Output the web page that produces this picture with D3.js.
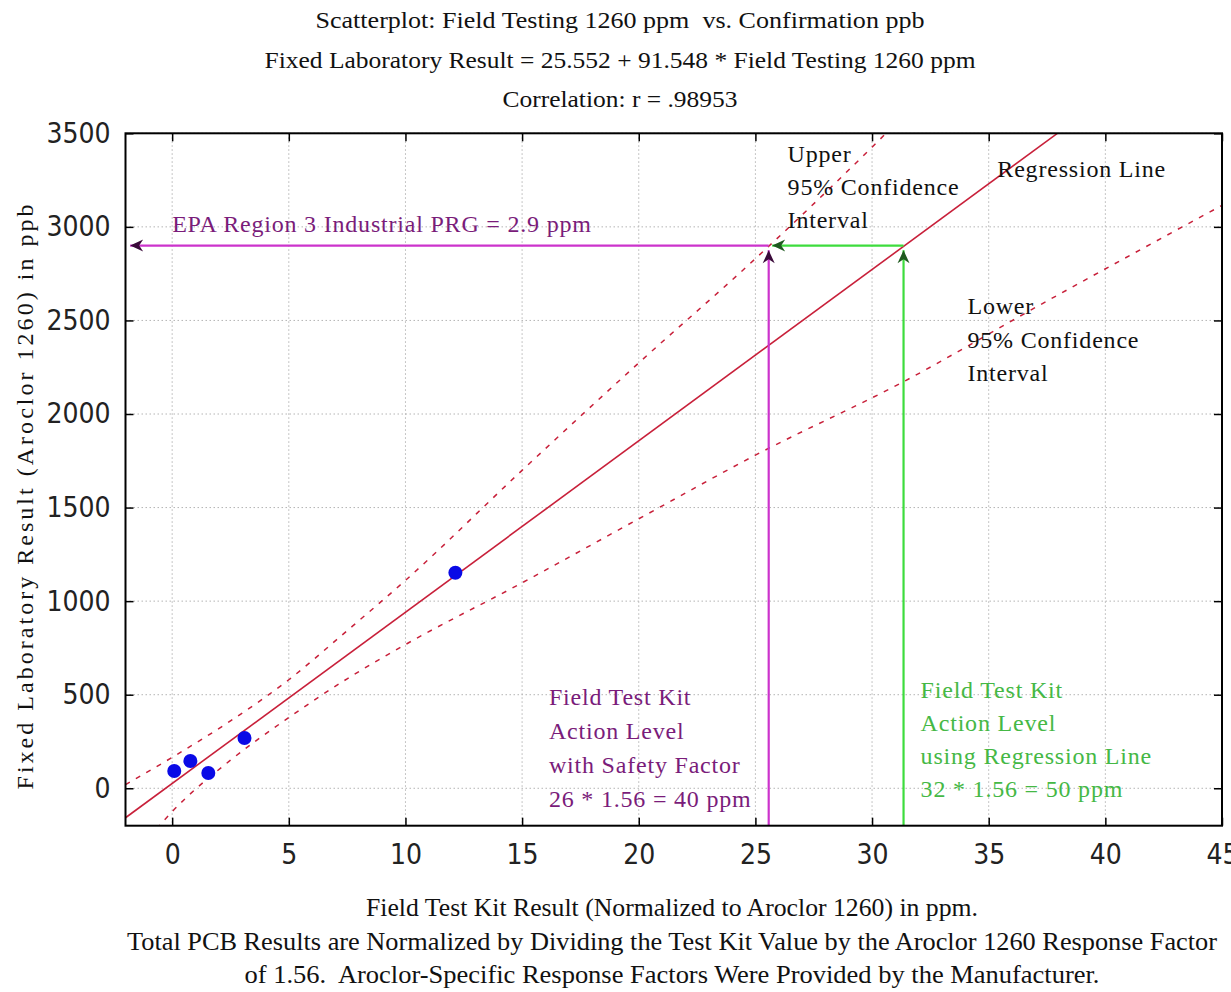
<!DOCTYPE html>
<html>
<head>
<meta charset="utf-8">
<script src="https://cdn.jsdelivr.net/npm/d3@7"></script>
<style>
  body { margin: 0; background: #fff; }
  .tick text { font-family: "DejaVu Sans Condensed", "Liberation Sans Narrow", sans-serif; font-stretch: condensed; font-size: 28px; fill: #222; }
  .tick line { stroke: #000; stroke-width: 1.5; }
  .grid line { stroke: #b4b4b4; stroke-width: 1; stroke-dasharray: 1.5,2.5; }
  .title, .xtitle { font-family: "Liberation Serif", "Times New Roman", serif; fill: #111; white-space: pre; }
  .note { font-family: "Liberation Serif", "Times New Roman", serif; font-size: 24px; letter-spacing: 0.8px; }
</style>
</head>
<body>
<div id="chart"></div>
<script>
// ---- data ----
var xTicks = [0, 5, 10, 15, 20, 25, 30, 35, 40, 45];
var yTicks = [0, 500, 1000, 1500, 2000, 2500, 3000, 3500];

// field test ppm vs lab ppb
var pointsX = [0.09, 0.78, 1.55, 3.1, 12.14];
var pointsY = [92, 146, 82, 269, 1152];

// regression line end points: 25.552 + 91.548 * x
var regX = [-2, 38];
var regY = [-157.5, 3504.5];

// 95% confidence interval curves
var upperX = [-2, 0, 2.5, 5, 7.5, 10, 15, 20, 25, 30, 30.6];
var upperY = [20, 165, 360, 580, 842, 1111, 1699, 2273, 2830, 3426, 3500];
var lowerX = [-1, 0, 2.5, 5, 7.5, 10, 15, 20, 25, 31.4, 37.2, 45];
var lowerY = [-265, -125, 150, 378, 585, 768, 1098, 1440, 1780, 2176, 2583, 3115];

var prgLevel = 2900;          // EPA Region 3 industrial PRG, ppb
var actionSafety = 25.57;     // where upper CI hits PRG
var actionRegression = 31.35; // where regression hits PRG

var titleLines = [
  "Scatterplot: Field Testing 1260 ppm  vs. Confirmation ppb",
  "Fixed Laboratory Result = 25.552 + 91.548 * Field Testing 1260 ppm",
  "Correlation: r = .98953"
];
var xTitleLines = [
  "Field Test Kit Result (Normalized to Aroclor 1260) in ppm.",
  "Total PCB Results are Normalized by Dividing the Test Kit Value by the Aroclor 1260 Response Factor",
  "of 1.56.  Aroclor-Specific Response Factors Were Provided by the Manufacturer."
];
var yTitle = "Fixed Laboratory Result (Aroclor 1260) in ppb";
var upperNote = ["Upper", "95% Confidence", "Interval"];
var lowerNote = ["Lower", "95% Confidence", "Interval"];
var regNote = "Regression Line";
var prgNote = "EPA Region 3 Industrial PRG = 2.9 ppm";
var safetyNote = ["Field Test Kit", "Action Level", "with Safety Factor", "26 * 1.56 = 40 ppm"];
var regActionNote = ["Field Test Kit", "Action Level", "using Regression Line", "32 * 1.56 = 50 ppm"];

// ---- layout ----
var width = 1231, height = 992;
var margin = {top: 133.3, right: 9, bottom: 166.3, left: 125.5};
var cw = width - margin.left - margin.right,
    ch = height - margin.top - margin.bottom;

var red = "#c8203a", magenta = "#cc33cc", green = "#3ddc3d",
    purpleText = "#7a1c7a", greenText = "#45b845";

var svg = d3.select("#chart").append("svg")
  .attr("width", width)
  .attr("height", height);

var x = d3.scaleLinear().domain([-2, 45]).range([0, cw]);
var y = d3.scaleLinear().domain([-200, 3500]).range([ch, 0]);

var defs = svg.append("defs");
defs.append("clipPath").attr("id", "plotclip")
  .append("rect").attr("width", cw).attr("height", ch);

function marker(id, color) {
  defs.append("marker")
    .attr("id", id)
    .attr("viewBox", "-14 -7 16 14")
    .attr("refX", 0).attr("refY", 0)
    .attr("markerWidth", 16).attr("markerHeight", 14)
    .attr("markerUnits", "userSpaceOnUse")
    .attr("orient", "auto")
    .append("path")
    .attr("d", "M0,0 L-13,-6 L-9,0 L-13,6 Z")
    .attr("fill", color);
}
marker("arrMag", "#3a0a3a");
marker("arrGreen", "#1f5a1f");

var g = svg.append("g")
  .attr("transform", "translate(" + margin.left + "," + margin.top + ")");

// grid
g.append("g").attr("class", "grid")
  .selectAll("line").data(xTicks).enter().append("line")
  .attr("x1", function(d) { return x(d); }).attr("x2", function(d) { return x(d); })
  .attr("y1", 0).attr("y2", ch);
g.append("g").attr("class", "grid")
  .selectAll("line").data(yTicks).enter().append("line")
  .attr("y1", function(d) { return y(d); }).attr("y2", function(d) { return y(d); })
  .attr("x1", 0).attr("x2", cw);

// axes, ticks pointing inwards
var fmt = d3.format("d");
g.append("g").attr("class", "x axis")
  .attr("transform", "translate(0," + ch + ")")
  .call(d3.axisBottom(x).tickValues(xTicks).tickFormat(fmt).tickSizeInner(-8).tickSizeOuter(0).tickPadding(18));
g.append("g").attr("class", "x axis top")
  .call(d3.axisTop(x).tickValues(xTicks).tickSizeInner(-8).tickSizeOuter(0).tickFormat(""));
g.append("g").attr("class", "y axis")
  .call(d3.axisLeft(y).tickValues(yTicks).tickFormat(fmt).tickSizeInner(-8).tickSizeOuter(0).tickPadding(15));
g.append("g").attr("class", "y axis right")
  .attr("transform", "translate(" + cw + ",0)")
  .call(d3.axisRight(y).tickValues(yTicks).tickSizeInner(-8).tickSizeOuter(0).tickFormat(""));
g.selectAll(".axis .domain").remove();

// lines
var line = d3.line().x(function(d) { return x(d[0]); }).y(function(d) { return y(d[1]); });
var plot = g.append("g").attr("clip-path", "url(#plotclip)");

plot.append("path")
  .datum(d3.zip(upperX, upperY))
  .attr("d", line.curve(d3.curveMonotoneX))
  .attr("fill", "none").attr("stroke", red).attr("stroke-width", 1.5)
  .attr("stroke-dasharray", "5,7");
plot.append("path")
  .datum(d3.zip(lowerX, lowerY))
  .attr("d", line.curve(d3.curveMonotoneX))
  .attr("fill", "none").attr("stroke", red).attr("stroke-width", 1.5)
  .attr("stroke-dasharray", "5,7");
plot.append("path")
  .datum(d3.zip(regX, regY))
  .attr("d", line.curve(d3.curveLinear))
  .attr("fill", "none").attr("stroke", red).attr("stroke-width", 1.6);

// action level arrows
plot.append("path")
  .datum([[actionSafety, prgLevel], [-1.8, prgLevel]])
  .attr("d", line)
  .attr("stroke", magenta).attr("stroke-width", 2.2).attr("fill", "none")
  .attr("marker-end", "url(#arrMag)");
plot.append("path")
  .datum([[actionSafety, -200], [actionSafety, prgLevel - 25]])
  .attr("d", line)
  .attr("stroke", magenta).attr("stroke-width", 2.2).attr("fill", "none")
  .attr("marker-end", "url(#arrMag)");
plot.append("path")
  .datum([[actionRegression, prgLevel], [actionSafety + 0.15, prgLevel]])
  .attr("d", line)
  .attr("stroke", green).attr("stroke-width", 2.2).attr("fill", "none")
  .attr("marker-end", "url(#arrGreen)");
plot.append("path")
  .datum([[actionRegression, -200], [actionRegression, prgLevel - 25]])
  .attr("d", line)
  .attr("stroke", green).attr("stroke-width", 2.2).attr("fill", "none")
  .attr("marker-end", "url(#arrGreen)");

// points
g.selectAll(".dot")
  .data(d3.zip(pointsX, pointsY))
  .enter().append("circle")
  .attr("class", "dot")
  .attr("cx", function(d) { return x(d[0]); })
  .attr("cy", function(d) { return y(d[1]); })
  .attr("r", 7)
  .attr("fill", "#0a0ae6");

// frame
g.append("rect")
  .attr("width", cw).attr("height", ch)
  .attr("fill", "none").attr("stroke", "#000").attr("stroke-width", 2);

// annotations
function block(lines, px, py, step, color) {
  var t = g.append("text").attr("class", "note").attr("fill", color);
  lines.forEach(function(s, i) {
    t.append("tspan").attr("x", px).attr("y", py + i * step).text(s);
  });
}
block(upperNote, x(26.38), 29, 33, "#111");
block(lowerNote, x(34.09), 181, 33.5, "#111");
block([regNote], x(35.37), 44, 0, "#111");
block([prgNote], x(0), 99, 0, purpleText);
block(safetyNote, x(16.15), 572, 34, purpleText);
block(regActionNote, x(32.08), 565, 33, greenText);

// titles
var titleW = [609, 711, 235];
titleLines.forEach(function(s, i) {
  svg.append("text").attr("class", "title")
    .attr("x", 620).attr("y", 28 + i * 39.5)
    .attr("text-anchor", "middle")
    .attr("font-size", 24)
    .attr("textLength", titleW[i]).attr("lengthAdjust", "spacingAndGlyphs")
    .text(s);
});
var xTitleW = [612, 1090, 855];
xTitleLines.forEach(function(s, i) {
  svg.append("text").attr("class", "xtitle")
    .attr("x", 672).attr("y", 916 + i * 33.5)
    .attr("text-anchor", "middle")
    .attr("font-size", 25)
    .attr("textLength", xTitleW[i]).attr("lengthAdjust", "spacingAndGlyphs")
    .text(s);
});
svg.append("text").attr("class", "title")
  .attr("transform", "translate(33,497) rotate(-90)")
  .attr("text-anchor", "middle")
  .attr("font-size", 24)
  .attr("textLength", 585).attr("lengthAdjust", "spacing")
  .text(yTitle);
</script>
</body>
</html>
